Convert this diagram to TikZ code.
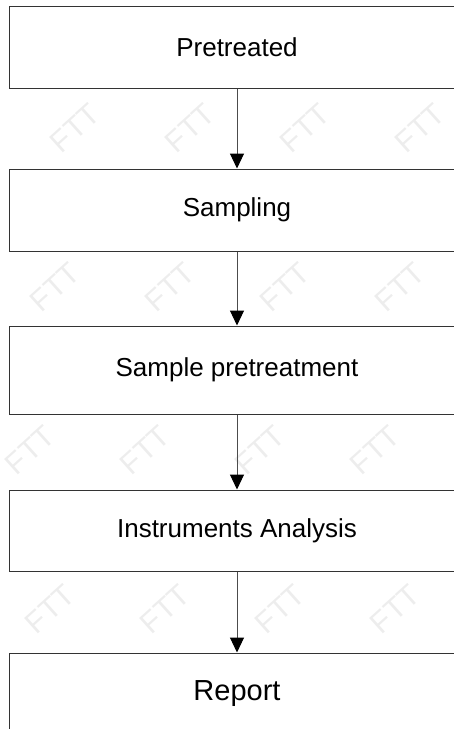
\documentclass[tikz,border=0pt]{standalone}
\usepackage{fontspec}
\setmainfont{Liberation Sans}
\usetikzlibrary{positioning,arrows.meta}
\tikzset{
stepbox/.style={
  draw=black!80, fill=white, line width=1pt,
  minimum width=455pt, minimum height=82pt, inner sep=0pt,
  font=\fontsize{26}{30}\selectfont
  },
flow/.style={
  -{Triangle[width=14pt,length=15pt,color=black]},
  draw=black!70, line width=1pt
  },
wmark/.style={
  text=black!7, rotate=42, inner sep=0pt,
  font=\fontsize{30}{30}\selectfont
  }
}

\begin{document}
\begin{tikzpicture}[x=1pt,y=-1pt]
\useasboundingbox (0,0) rectangle (454,729);

% faint watermark in the gaps between the boxes
\foreach \y/\x in {128/75, 287/55, 450/30, 609/50}{
  \foreach \c in {0,...,3}{
    \node[wmark] (wm-\y-\c) at ({\x+115*\c}, \y) {FTT};
  }
}

\node[stepbox] (pretreat) at (237,47) {Pretreated};
\node[stepbox, below=80pt of pretreat] (sampling) {Sampling};
\node[stepbox, minimum height=88pt, below=74pt of sampling] (prep) {Sample pretreatment};
\node[stepbox, minimum height=81pt, below=75pt of prep] (analysis) {Instruments Analysis};
\node[stepbox, below=81pt of analysis,
      font=\fontsize{29}{33}\selectfont] (report) {Report};

\draw[flow] (pretreat) -- (sampling);
\draw[flow] (sampling) -- (prep);
\draw[flow] (prep) -- (analysis);
\draw[flow] (analysis) -- (report);

\end{tikzpicture}
\end{document}
